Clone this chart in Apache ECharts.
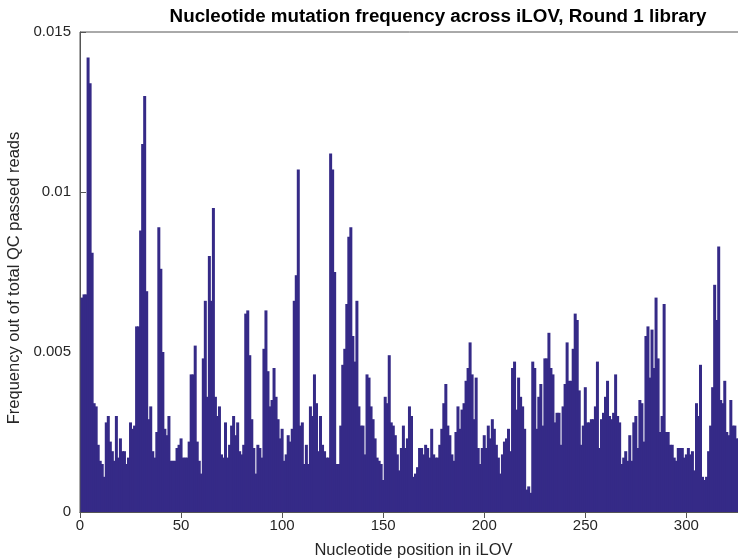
<!DOCTYPE html>
<html>
<head>
<meta charset="utf-8">
<script src="https://cdn.jsdelivr.net/npm/echarts@6/dist/echarts.min.js"></script>
<style>html,body{margin:0;padding:0;background:#fff;}#c{width:738px;height:560px;}</style>
</head>
<body>
<div id="c"></div>
<script>
const titleText = 'Nucleotide mutation frequency across iLOV, Round 1 library';
const xName = 'Nucleotide position in iLOV';
const yName = 'Frequency out of total QC passed reads';
const xTicks = [0, 50, 100, 150, 200, 250, 300];
const yTicks = [0, 0.005, 0.01, 0.015];
const yTickLabels = ['0', '0.005', '0.01', '0.015'];
// mutation frequency per nucleotide position, starting at position 1
const freq = [
0.0067,0.0068,0.0068,0.0142,0.0134,0.0081,0.0034,0.0033,0.0021,0.0016,
0.0015,0.0011,0.0028,0.0030,0.0022,0.0019,0.0016,0.0030,0.0017,0.0023,
0.0019,0.0019,0.0015,0.0017,0.0028,0.0026,0.0027,0.0058,0.0058,0.0088,
0.0115,0.0130,0.0069,0.0029,0.0033,0.0019,0.0017,0.0025,0.0089,0.0076,
0.0050,0.0026,0.0024,0.0030,0.0016,0.0016,0.0016,0.0020,0.0021,0.0023,
0.0017,0.0017,0.0017,0.0022,0.0043,0.0043,0.0052,0.0022,0.0016,0.0012,
0.0048,0.0066,0.0036,0.0080,0.0066,0.0095,0.0036,0.0030,0.0033,0.0018,
0.0017,0.0028,0.0017,0.0021,0.0027,0.0030,0.0024,0.0028,0.0019,0.0018,
0.0021,0.0062,0.0063,0.0049,0.0029,0.0020,0.0012,0.0021,0.0020,0.0017,
0.0051,0.0063,0.0044,0.0033,0.0035,0.0045,0.0036,0.0029,0.0023,0.0026,
0.0016,0.0018,0.0024,0.0022,0.0026,0.0066,0.0074,0.0107,0.0027,0.0028,
0.0015,0.0021,0.0015,0.0033,0.0030,0.0043,0.0034,0.0019,0.0030,0.0021,
0.0019,0.0017,0.0017,0.0112,0.0107,0.0075,0.0015,0.0015,0.0027,0.0046,
0.0051,0.0065,0.0086,0.0089,0.0055,0.0047,0.0066,0.0033,0.0027,0.0027,
0.0018,0.0043,0.0042,0.0033,0.0029,0.0023,0.0017,0.0016,0.0015,0.0010,
0.0036,0.0034,0.0049,0.0028,0.0027,0.0024,0.0018,0.0013,0.0020,0.0027,
0.0020,0.0023,0.0033,0.0030,0.0011,0.0012,0.0014,0.0020,0.0020,0.0018,
0.0021,0.0020,0.0017,0.0026,0.0018,0.0017,0.0017,0.0021,0.0026,0.0034,
0.0040,0.0027,0.0024,0.0018,0.0016,0.0025,0.0033,0.0026,0.0032,0.0034,
0.0041,0.0045,0.0053,0.0043,0.0029,0.0042,0.0020,0.0015,0.0020,0.0024,
0.0020,0.0027,0.0023,0.0029,0.0026,0.0021,0.0017,0.0012,0.0018,0.0022,
0.0023,0.0026,0.0019,0.0045,0.0047,0.0032,0.0042,0.0036,0.0033,0.0026,
0.0007,0.0008,0.0006,0.0047,0.0045,0.0026,0.0036,0.0040,0.0027,0.0048,
0.0048,0.0056,0.0045,0.0043,0.0028,0.0031,0.0031,0.0021,0.0033,0.0040,
0.0053,0.0041,0.0041,0.0051,0.0062,0.0060,0.0038,0.0021,0.0027,0.0039,
0.0028,0.0028,0.0029,0.0029,0.0033,0.0047,0.0020,0.0029,0.0031,0.0036,
0.0041,0.0030,0.0029,0.0031,0.0043,0.0030,0.0028,0.0015,0.0017,0.0019,
0.0016,0.0024,0.0016,0.0028,0.0030,0.0020,0.0035,0.0034,0.0022,0.0055,
0.0058,0.0042,0.0057,0.0045,0.0067,0.0048,0.0025,0.0030,0.0065,0.0025,
0.0025,0.0021,0.0021,0.0017,0.0016,0.0020,0.0020,0.0020,0.0017,0.0018,
0.0020,0.0018,0.0019,0.0013,0.0034,0.0030,0.0046,0.0011,0.0010,0.0011,
0.0019,0.0027,0.0039,0.0071,0.0060,0.0083,0.0035,0.0034,0.0041,0.0025,
0.0024,0.0035,0.0027,0.0027,0.0023,0.0023
];

const data = freq.map((v, i) => [i + 1, v]);
const axisColor = '#555';
const textColor = '#262626';
const font = 'Liberation Sans, Arial, Helvetica, sans-serif';

const chart = echarts.init(document.getElementById('c'), null, {renderer: 'canvas'});
chart.setOption({
  animation: false,
  backgroundColor: '#fff',
  title: {
    text: titleText,
    left: 433, top: 2, textAlign: 'center',
    textStyle: {fontFamily: font, fontSize: 18.8, fontWeight: 'bold', color: '#000'}
  },
  grid: {left: 80, width: 667, top: 32, bottom: 48, containLabel: false, outerBoundsMode: 'none',
         show: true, borderColor: axisColor, borderWidth: 1, backgroundColor: 'transparent'},
  xAxis: [{
    type: 'value', min: 0, max: 330, interval: 50,
    axisLine: {show: true, onZero: false, lineStyle: {color: axisColor}},
    axisTick: {show: true, inside: true, length: 6, lineStyle: {color: axisColor}},
    splitLine: {show: false},
    axisLabel: {
      color: textColor, fontFamily: font, fontSize: 15, margin: 6,
      formatter: v => xTicks.indexOf(v) >= 0 ? String(v) : ''
    },
    name: xName, nameLocation: 'middle', nameGap: 30,
    nameTextStyle: {color: textColor, fontFamily: font, fontSize: 16.5}
  }, {
    type: 'value', min: 0, max: 330, interval: 50, position: 'top',
    axisLine: {show: true, lineStyle: {color: axisColor}},
    axisTick: {show: true, inside: true, length: 6, lineStyle: {color: axisColor}},
    axisLabel: {show: false}, splitLine: {show: false}
  }],
  yAxis: {
    type: 'value', min: 0, max: 0.015, interval: 0.005,
    axisLine: {show: true, lineStyle: {color: axisColor}},
    axisTick: {show: true, inside: true, length: 6, lineStyle: {color: axisColor}},
    splitLine: {show: false},
    axisLabel: {
      color: textColor, fontFamily: font, fontSize: 15, margin: 9,
      formatter: v => {
        for (let i = 0; i < yTicks.length; i++) if (Math.abs(v - yTicks[i]) < 1e-9) return yTickLabels[i];
        return '';
      }
    },
    name: yName, nameLocation: 'middle', nameGap: 55, nameRotate: 90,
    nameTextStyle: {color: textColor, fontFamily: font, fontSize: 16.5, padding: [0, 12, 0, 0]}
  },
  series: [{
    type: 'bar', xAxisIndex: 0, data: data,
    barWidth: 3, barGap: '-100%',
    itemStyle: {color: '#352a87'},
    emphasis: {disabled: true}
  }]
});
</script>
</body>
</html>
